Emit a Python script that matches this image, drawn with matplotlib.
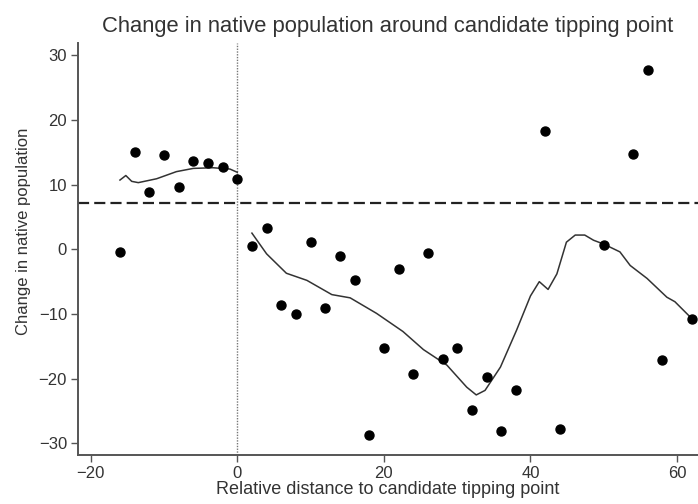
import matplotlib
matplotlib.use('Agg')
import matplotlib.pyplot as plt

# observed points (relative distance, change in native population)
dist = [-16, -14, -12, -10, -8, -6, -4, -2, 0,
        2, 4, 6, 8, 10, 12, 14, 16, 18, 20, 22, 24, 26, 28, 30,
        32, 34, 36, 38, 42, 44, 50, 54, 56, 58, 62]
change = [-0.4, 15.0, 8.9, 14.6, 9.7, 13.7, 13.3, 12.7, 10.9,
          0.5, 3.3, -8.6, -10.0, 1.1, -9.0, -1.1, -4.7, -28.7, -15.2, -3.1, -19.3, -0.5, -16.9, -15.3,
          -24.9, -19.7, -28.0, -21.8, 18.3, -27.8, 0.7, 14.7, 27.7, -17.1, -10.8]

# smoothed fit, left and right of the candidate tipping point
fit_left_x = [-16, -15.2, -14.4, -13.5, -11, -8.3, -6, -3.3, -1, 0]
fit_left_y = [10.7, 11.4, 10.5, 10.3, 10.9, 12.0, 12.5, 12.6, 12.4, 11.9]
fit_right_x = [2, 4, 6.7, 9.5, 12.9, 15.4, 19, 22.6, 25.4, 28.6, 31.3, 32.6, 33.8, 35.9, 38.1,
               40, 41.2, 42.4, 43.6, 44.9, 46.1, 47.4, 48.6, 50, 52.2, 53.6, 55.9, 58.6, 59.7, 62]
fit_right_y = [2.5, -0.7, -3.7, -4.8, -7.0, -7.5, -9.9, -12.7, -15.5, -17.9, -21.3, -22.5, -21.8, -18.2, -12.5,
               -7.2, -5.0, -6.2, -3.8, 1.1, 2.2, 2.2, 1.4, 0.8, -0.4, -2.5, -4.5, -7.4, -8.1, -10.7]

mean_change = 7.2

plt.rcParams['font.family'] = ['Liberation Sans', 'DejaVu Sans']

fig = plt.figure(figsize=(6.98, 5.04), dpi=100)
ax = fig.add_axes([0.112, 0.097, 0.888, 0.818])

ax.axvline(0, color='#777777', lw=1, linestyle=(0, (1, 1)), zorder=1)
ax.axhline(mean_change, color='#222222', lw=1.6, linestyle=(0, (5, 2.3)), zorder=2)
ax.plot(fit_left_x, fit_left_y, color='#333333', lw=1.1, zorder=3)
ax.plot(fit_right_x, fit_right_y, color='#333333', lw=1.1, zorder=3)
ax.scatter(dist, change, s=42, color='black', zorder=4)

ax.set_xlim(-21.7, 62.85)
ax.set_ylim(-31.8, 31.9)
ax.set_xticks([-20, 0, 20, 40, 60])
ax.set_yticks([-30, -20, -10, 0, 10, 20, 30])
ax.set_xticklabels(['\u221220', '0', '20', '40', '60'])
ax.set_yticklabels(['\u221230', '\u221220', '\u221210', '0', '10', '20', '30'])

for s in ['top', 'right']:
    ax.spines[s].set_visible(False)
for s in ['left', 'bottom']:
    ax.spines[s].set_color('#555555')
    ax.spines[s].set_linewidth(1.4)
ax.tick_params(direction='out', length=5, width=1, color='#555555',
               labelsize=12, labelcolor='#333333', pad=3)

ax.set_xlabel('Relative distance to candidate tipping point', fontsize=13,
              color='#333333', labelpad=0)
ax.set_ylabel('Change in native population', fontsize=12, color='#333333',
              va='center', ha='center')
ax.yaxis.set_label_coords(-0.088, 0.543)
ax.set_title('Change in native population around candidate tipping point',
             fontsize=15.8, color='#333333', pad=8)

fig.savefig('out.png', dpi=100)
